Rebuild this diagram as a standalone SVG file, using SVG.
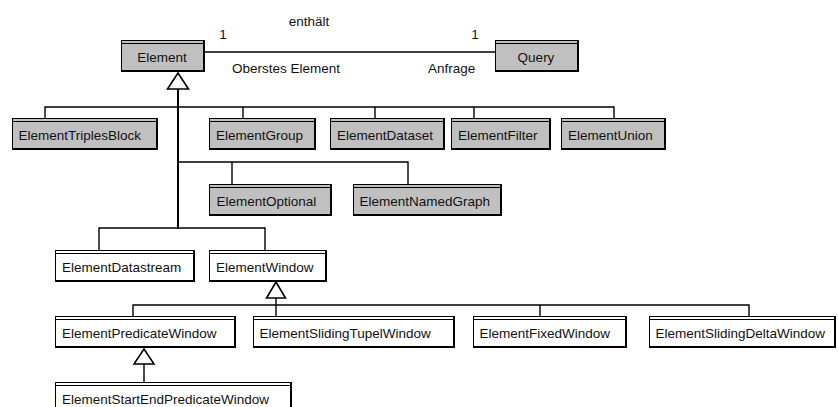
<svg xmlns="http://www.w3.org/2000/svg" width="838" height="407" viewBox="0 0 838 407">
  <style>
    text { font-family: "Liberation Sans", Arial, sans-serif; font-size: 13.5px; fill: #111; }
    .mid { text-anchor: middle; }
    .frame { stroke: #000; stroke-width: 1; }
    .gray { fill: #c0c0c0; }
    .white { fill: #fff; }
    .edge { fill: none; stroke: #000; stroke-width: 2; }
    .rule { stroke: #000; stroke-width: 1; }
    .conn { fill: none; stroke: #000; stroke-width: 1.4; }
    .trunk { fill: none; stroke: #000; stroke-width: 2; }
    .tri { fill: #fff; stroke: #000; stroke-width: 1.6; }
  </style>

  <!-- connectors -->
  <g id="connectors">
    <!-- association Element - Query -->
    <line class="conn" x1="205" y1="52" x2="495" y2="52"/>
    <!-- generalisation trunk from Element -->
    <line class="trunk" x1="178" y1="89" x2="178" y2="229"/>
    <polygon class="tri" points="178,73 167.5,89 188.5,89"/>
    <!-- first row of subclasses -->
    <polyline class="conn" points="45,118 45,107 614,107 614,118"/>
    <line class="conn" x1="243" y1="107" x2="243" y2="118"/>
    <line class="conn" x1="375" y1="107" x2="375" y2="118"/>
    <line class="conn" x1="474" y1="107" x2="474" y2="118"/>
    <!-- second row -->
    <polyline class="conn" points="178,162 408,162 408,184"/>
    <line class="conn" x1="232" y1="162" x2="232" y2="184"/>
    <!-- third row -->
    <polyline class="conn" points="99,250 99,228 265,228 265,250"/>
    <!-- window subclasses -->
    <polygon class="tri" points="276,282 266.5,298 285.5,298"/>
    <line class="conn" x1="276" y1="298" x2="276" y2="316"/>
    <polyline class="conn" points="133,316 133,305 749,305 749,316"/>
    <line class="conn" x1="540" y1="305" x2="540" y2="316"/>
    <!-- predicate window subclass -->
    <polygon class="tri" points="144,349 134,364 154,364"/>
    <line class="conn" x1="144" y1="364" x2="144" y2="382"/>
  </g>

  <!-- association labels -->
  <g id="association-labels">
    <text class="mid" x="309" y="26">enthält</text>
    <text class="mid" x="223" y="39">1</text>
    <text class="mid" x="475" y="39">1</text>
    <text x="232" y="73">Oberstes Element</text>
    <text x="428" y="73">Anfrage</text>
  </g>

  <g id="Element">
    <rect class="frame gray" x="121.5" y="40.5" width="83" height="31"/>
    <line class="rule" x1="121.5" y1="43.5" x2="204.5" y2="43.5"/>
    <polyline class="edge" points="204,41 204,71 122,71"/>
    <text class="mid" x="162" y="62">Element</text>
  </g>

  <g id="Query">
    <rect class="frame gray" x="495.5" y="40.5" width="83" height="31"/>
    <line class="rule" x1="495.5" y1="43.5" x2="578.5" y2="43.5"/>
    <polyline class="edge" points="578,41 578,71 496,71"/>
    <text class="mid" x="536" y="62">Query</text>
  </g>

  <g id="ElementTriplesBlock">
    <rect class="frame gray" x="12.5" y="118.5" width="145" height="31"/>
    <line class="rule" x1="12.5" y1="121.5" x2="157.5" y2="121.5"/>
    <polyline class="edge" points="157,119 157,149 13,149"/>
    <text x="18.5" y="140">ElementTriplesBlock</text>
  </g>

  <g id="ElementGroup">
    <rect class="frame gray" x="209.5" y="118.5" width="106" height="31"/>
    <line class="rule" x1="209.5" y1="121.5" x2="315.5" y2="121.5"/>
    <polyline class="edge" points="315,119 315,149 210,149"/>
    <text x="216" y="140">ElementGroup</text>
  </g>

  <g id="ElementDataset">
    <rect class="frame gray" x="330.5" y="118.5" width="114" height="31"/>
    <line class="rule" x1="330.5" y1="121.5" x2="444.5" y2="121.5"/>
    <polyline class="edge" points="444,119 444,149 331,149"/>
    <text x="337" y="140">ElementDataset</text>
  </g>

  <g id="ElementFilter">
    <rect class="frame gray" x="451.5" y="118.5" width="99" height="31"/>
    <line class="rule" x1="451.5" y1="121.5" x2="550.5" y2="121.5"/>
    <polyline class="edge" points="550,119 550,149 452,149"/>
    <text x="458" y="140">ElementFilter</text>
  </g>

  <g id="ElementUnion">
    <rect class="frame gray" x="561.5" y="118.5" width="104" height="31"/>
    <line class="rule" x1="561.5" y1="121.5" x2="665.5" y2="121.5"/>
    <polyline class="edge" points="665,119 665,149 562,149"/>
    <text x="568" y="140">ElementUnion</text>
  </g>

  <g id="ElementOptional">
    <rect class="frame gray" x="209.5" y="184.5" width="122" height="31"/>
    <line class="rule" x1="209.5" y1="187.5" x2="331.5" y2="187.5"/>
    <polyline class="edge" points="331,185 331,215 210,215"/>
    <text x="216.5" y="206">ElementOptional</text>
  </g>

  <g id="ElementNamedGraph">
    <rect class="frame gray" x="353.5" y="184.5" width="148" height="31"/>
    <line class="rule" x1="353.5" y1="187.5" x2="501.5" y2="187.5"/>
    <polyline class="edge" points="501,185 501,215 354,215"/>
    <text x="359.5" y="206">ElementNamedGraph</text>
  </g>

  <g id="ElementDatastream">
    <rect class="frame white" x="55.5" y="250.5" width="139" height="31"/>
    <line class="rule" x1="55.5" y1="253.5" x2="194.5" y2="253.5"/>
    <polyline class="edge" points="194,251 194,281 56,281"/>
    <text x="62" y="272">ElementDatastream</text>
  </g>

  <g id="ElementWindow">
    <rect class="frame white" x="209.5" y="250.5" width="117" height="31"/>
    <line class="rule" x1="209.5" y1="253.5" x2="326.5" y2="253.5"/>
    <polyline class="edge" points="326,251 326,281 210,281"/>
    <text x="216" y="272">ElementWindow</text>
  </g>

  <g id="ElementPredicateWindow">
    <rect class="frame white" x="55.5" y="316.5" width="180" height="31"/>
    <line class="rule" x1="55.5" y1="319.5" x2="235.5" y2="319.5"/>
    <polyline class="edge" points="235,317 235,347 56,347"/>
    <text x="62" y="338">ElementPredicateWindow</text>
  </g>

  <g id="ElementSlidingTupelWindow">
    <rect class="frame white" x="253.5" y="316.5" width="201" height="31"/>
    <line class="rule" x1="253.5" y1="319.5" x2="454.5" y2="319.5"/>
    <polyline class="edge" points="454,317 454,347 254,347"/>
    <text x="259.5" y="338">ElementSlidingTupelWindow</text>
  </g>

  <g id="ElementFixedWindow">
    <rect class="frame white" x="473.5" y="316.5" width="153" height="31"/>
    <line class="rule" x1="473.5" y1="319.5" x2="626.5" y2="319.5"/>
    <polyline class="edge" points="626,317 626,347 474,347"/>
    <text x="479.5" y="338">ElementFixedWindow</text>
  </g>

  <g id="ElementSlidingDeltaWindow">
    <rect class="frame white" x="649.5" y="316.5" width="186" height="31"/>
    <line class="rule" x1="649.5" y1="319.5" x2="835.5" y2="319.5"/>
    <polyline class="edge" points="835,317 835,347 650,347"/>
    <text x="655.5" y="338">ElementSlidingDeltaWindow</text>
  </g>

  <g id="ElementStartEndPredicateWindow">
    <rect class="frame white" x="55.5" y="382.5" width="236" height="31"/>
    <line class="rule" x1="55.5" y1="385.5" x2="291.5" y2="385.5"/>
    <polyline class="edge" points="291,383 291,413 56,413"/>
    <text x="62" y="404">ElementStartEndPredicateWindow</text>
  </g>
</svg>
